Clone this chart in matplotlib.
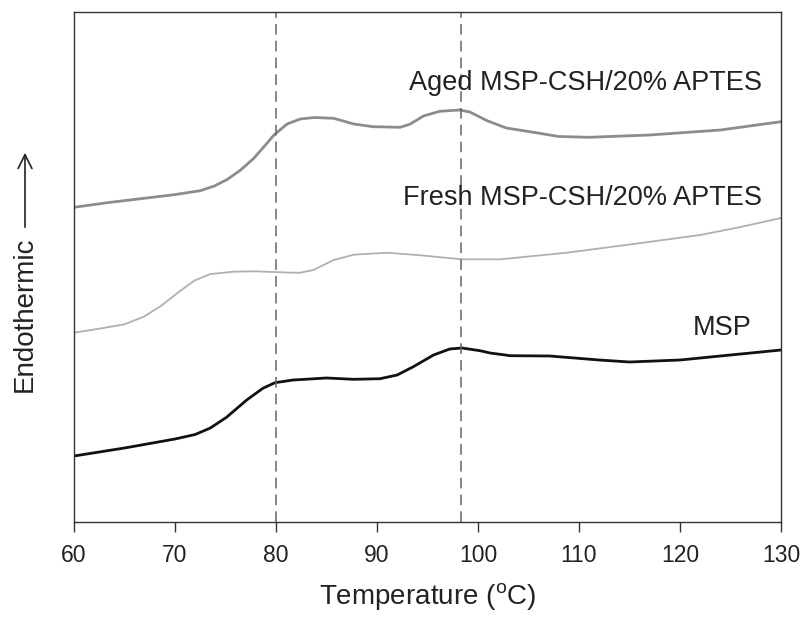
import numpy as np
import matplotlib
matplotlib.use("Agg")
import matplotlib.pyplot as plt

plt.rcParams['font.family'] = ['Liberation Sans', 'DejaVu Sans']

# DSC traces (arbitrary heat-flow units, offset stacked)
t_aged = [60, 63.3, 66.6, 69.9, 72.5, 73.9, 75.2, 76.5, 77.8, 79.1, 79.8, 81.1, 82.4,
          83.8, 85.7, 87.7, 89.6, 92.3, 93.3, 94.6, 96.2, 98.2, 99.2, 100.9, 102.8,
          106.1, 108, 111, 117, 124, 130]
aged = [314.7, 319.3, 323.3, 327.3, 331.3, 336, 342.7, 352, 363.7, 378.7, 387, 398, 403,
        404.5, 403.7, 398, 395.3, 394.7, 398, 406, 410.7, 412, 410, 401.3, 394,
        388.7, 385.5, 384.7, 387, 392, 400.3]

t_fresh = [60, 62.5, 65, 66.9, 68.6, 70.2, 71.9, 73.5, 75.8, 77.8, 79.8, 81.5, 82.4,
           83.7, 85.7, 87.7, 91, 94.3, 98.4, 102.2, 108.8, 115.4, 122, 126, 130]
fresh = [189.3, 193.3, 197.7, 205.3, 216, 228.7, 241.3, 248, 250.3, 250.7, 250, 249.3, 249.3,
         252, 262, 267.3, 269.3, 266.7, 262.7, 262.7, 269.3, 278, 287, 295, 304]

t_msp = [60, 65, 70, 72, 73.5, 75.1, 77.1, 78.7, 79.9, 81.7, 85, 87.7, 90.3, 92,
         93.6, 95.6, 97.2, 98.4, 100.2, 101.2, 103.2, 107.1, 112, 115, 120, 124, 130]
msp = [66, 74, 83, 87.5, 94, 104.7, 122, 133.7, 139.3, 142, 144, 142.7, 143.3, 147,
       155.3, 167, 173, 174, 171.3, 169, 166.3, 166, 162, 160, 162, 166, 172]

peaks = [80, 98.3]
labels = ["Aged MSP-CSH/20% APTES", "Fresh MSP-CSH/20% APTES", "MSP"]

fig = plt.figure(figsize=(8.07, 6.24), dpi=100)
ax = fig.add_axes([74/807, 1 - 522/624, (781 - 74)/807, (522 - 12)/624])

ax.plot(t_aged, aged, color='#8c8c8c', lw=2.0, solid_joinstyle='round')
ax.plot(t_fresh, fresh, color='#b0b0b0', lw=1.3, solid_joinstyle='round')
ax.plot(t_msp, msp, color='#111111', lw=2.0, solid_joinstyle='round')

for p in peaks:
    ax.axvline(p, color='#666666', lw=1.1, ls=(0, (7, 4)))

ax.text(110.6, 439, labels[0], ha='center', va='center', fontsize=19.5, color='#222222')
ax.text(110.3, 324, labels[1], ha='center', va='center', fontsize=19.5, color='#222222')
ax.text(124.2, 194, labels[2], ha='center', va='center', fontsize=19.5, color='#222222')

ax.set_xlim(60, 130)
ax.set_ylim(0, 510)
ax.set_xticks(range(60, 131, 10))
ax.set_yticks([])
ax.tick_params(axis='x', direction='out', length=7, width=1, labelsize=16.5,
               pad=9, colors='#333333', labelcolor='#222222')
for s in ax.spines.values():
    s.set_color('#333333')
    s.set_linewidth(1.0)

ax.set_xlabel('Temperature ($\\mathregular{^{o}}$C)', fontsize=20, color='#222222', labelpad=10)

# y label with an arrow pointing up
fig.text(25/807, 1 - 392/624, 'Endothermic', rotation=90, ha='center', va='bottom',
         fontsize=20, color='#222222')
fig.add_artist(matplotlib.patches.FancyArrowPatch(
    (25/807, 1 - 230/624), (25/807, 1 - 150/624), transform=fig.transFigure,
    arrowstyle='->,head_length=10,head_width=5', lw=1.2, color='#222222'))

fig.savefig('out.png', dpi=100)
